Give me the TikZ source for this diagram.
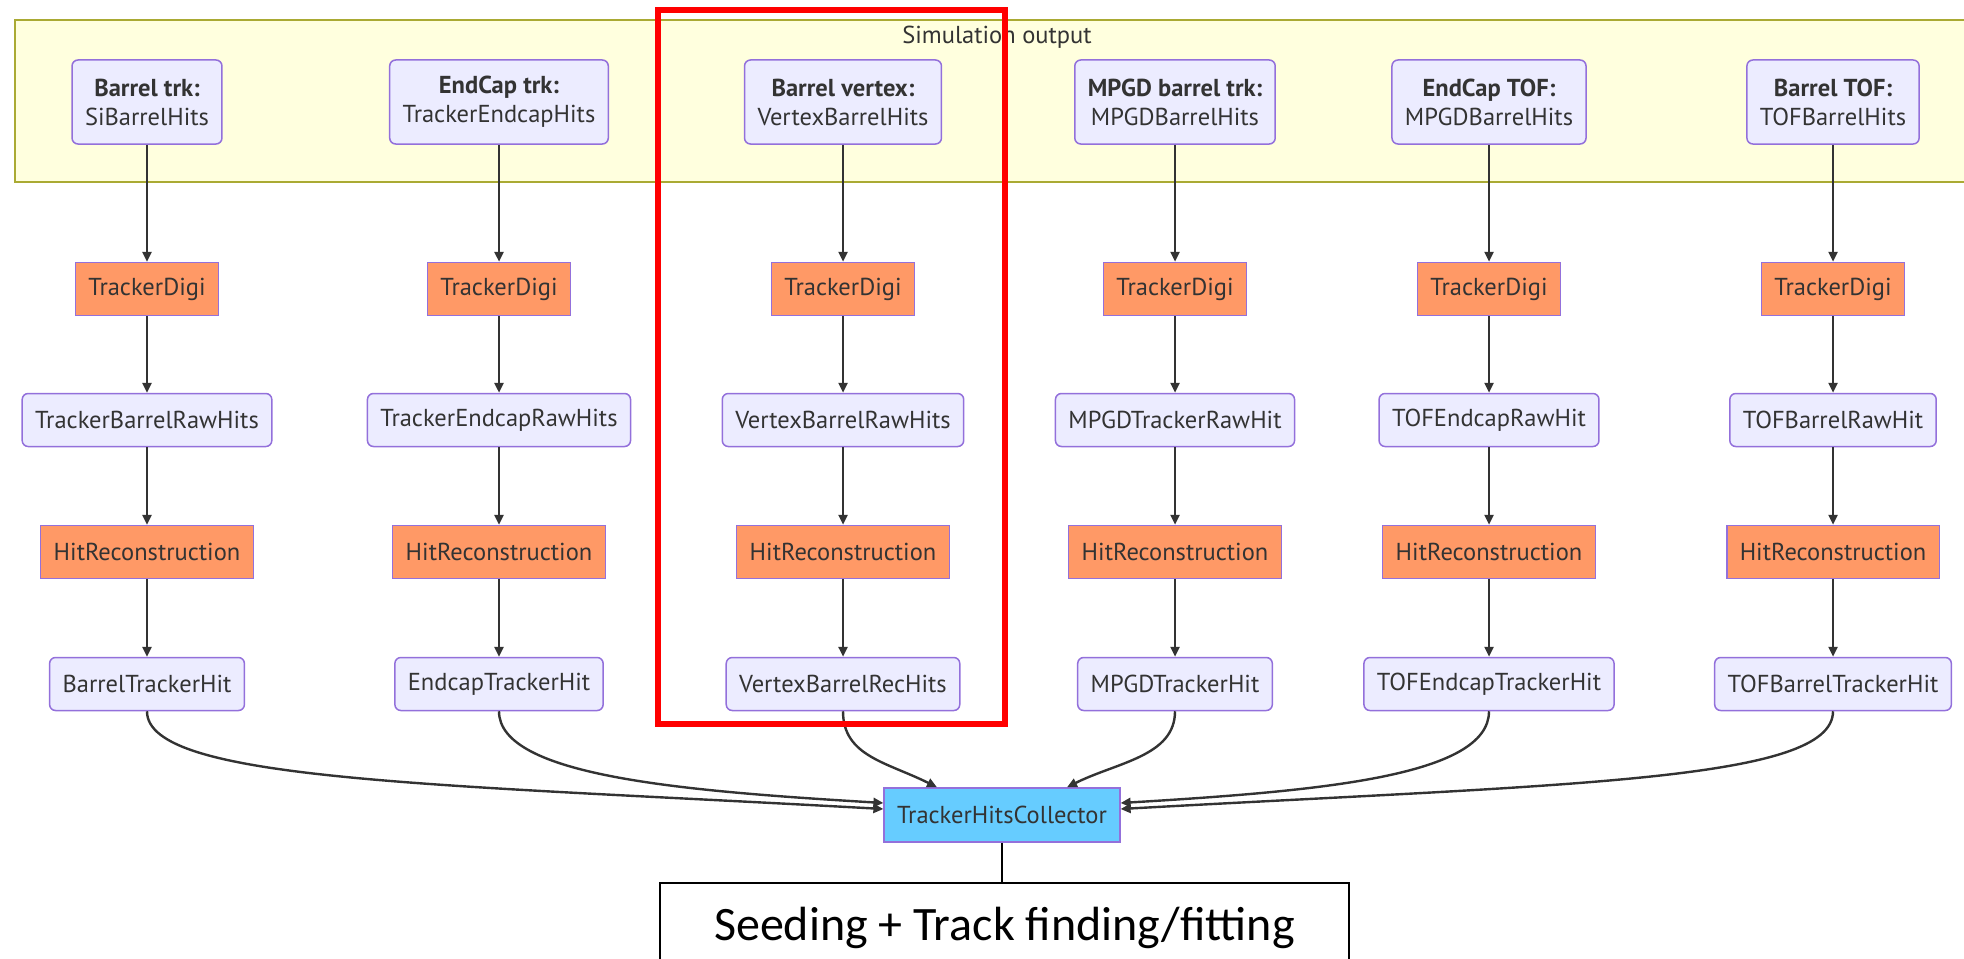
\documentclass[tikz,border=0pt]{standalone}
\usepackage{fontspec}
\setmainfont{PT Sans}
\newfontfamily\calib{Carlito}
\usetikzlibrary{arrows.meta,calc}
\definecolor{nodefill}{HTML}{ECECFF}
\definecolor{nodeborder}{HTML}{9370DB}
\definecolor{procfill}{HTML}{FF9966}
\definecolor{collfill}{HTML}{66CCFF}
\definecolor{bandfill}{HTML}{FFFFDE}
\definecolor{bandborder}{HTML}{AAAA33}
\definecolor{edgecol}{HTML}{333333}
\definecolor{txtcol}{HTML}{333333}
\tikzset{
  base/.style={font=\fontsize{24.5}{29}\selectfont, text=txtcol, inner xsep=13pt, inner ysep=0pt,
    minimum height=53pt, line width=1.5pt, draw=nodeborder},
  datanode/.style={base, fill=nodefill, rounded corners=6pt},
  procnode/.style={base, fill=procfill},
  collnode/.style={base, fill=collfill, minimum height=54pt},
  srcnode/.style={datanode, minimum height=84pt, align=center},
  arr/.style={draw=edgecol, line width=2.4pt, -{Triangle[length=10pt,width=9pt]}},
  bandnode/.style={draw=bandborder, fill=bandfill, line width=2pt, inner sep=0pt},
  hlbox/.style={draw=red, line width=6pt, inner sep=0pt},
  seednode/.style={draw=black, fill=white, line width=2pt, font=\calib\fontsize{48}{52}\selectfont, text=black},
}
\begin{document}
\begin{tikzpicture}[x=1pt,y=-1pt]
\useasboundingbox (0,0) rectangle (1964,958);
% background band
\node[bandnode, minimum width=1965pt, minimum height=162pt] (band) at (997.5,101) {};
\node[font=\fontsize{24.5}{29}\selectfont, text=txtcol] (bandlabel) at (997,37) {Simulation output};

% column x: 147, 499, 843, 1175, 1489, 1833
% rows y: 102, 289, 420, 552, 684
\node[srcnode] (s1) at (147,102) {\textbf{Barrel trk:}\\SiBarrelHits};
\node[srcnode] (s2) at (499,102) {\textbf{EndCap trk:}\\TrackerEndcapHits};
\node[srcnode] (s3) at (843,102) {\textbf{Barrel vertex:}\\VertexBarrelHits};
\node[srcnode] (s4) at (1175,102) {\textbf{MPGD barrel trk:}\\MPGDBarrelHits};
\node[srcnode] (s5) at (1489,102) {\textbf{EndCap TOF:}\\MPGDBarrelHits};
\node[srcnode] (s6) at (1833,102) {\textbf{Barrel TOF:}\\TOFBarrelHits};

\node[procnode] (d1) at (147,289) {TrackerDigi};
\node[procnode] (d2) at (499,289) {TrackerDigi};
\node[procnode] (d3) at (843,289) {TrackerDigi};
\node[procnode] (d4) at (1175,289) {TrackerDigi};
\node[procnode] (d5) at (1489,289) {TrackerDigi};
\node[procnode] (d6) at (1833,289) {TrackerDigi};

\node[datanode] (r1) at (147,420) {TrackerBarrelRawHits};
\node[datanode] (r2) at (499,420) {TrackerEndcapRawHits};
\node[datanode] (r3) at (843,420) {VertexBarrelRawHits};
\node[datanode] (r4) at (1175,420) {MPGDTrackerRawHit};
\node[datanode] (r5) at (1489,420) {TOFEndcapRawHit};
\node[datanode] (r6) at (1833,420) {TOFBarrelRawHit};

\node[procnode] (h1) at (147,552) {HitReconstruction};
\node[procnode] (h2) at (499,552) {HitReconstruction};
\node[procnode] (h3) at (843,552) {HitReconstruction};
\node[procnode] (h4) at (1175,552) {HitReconstruction};
\node[procnode] (h5) at (1489,552) {HitReconstruction};
\node[procnode] (h6) at (1833,552) {HitReconstruction};

\node[datanode] (t1) at (147,684) {BarrelTrackerHit};
\node[datanode] (t2) at (499,684) {EndcapTrackerHit};
\node[datanode] (t3) at (843,684) {VertexBarrelRecHits};
\node[datanode] (t4) at (1175,684) {MPGDTrackerHit};
\node[datanode] (t5) at (1489,684) {TOFEndcapTrackerHit};
\node[datanode] (t6) at (1833,684) {TOFBarrelTrackerHit};

\node[collnode] (c) at (1002,815) {TrackerHitsCollector};

\node[seednode, minimum width=689pt, minimum height=90pt] (seed) at (1004.5,928) {Seeding + Track finding/fitting};

\foreach \i in {1,...,6}{
  \draw[arr] (s\i) -- (d\i);
  \draw[arr] (d\i) -- (r\i);
  \draw[arr] (r\i) -- (h\i);
  \draw[arr] (h\i) -- (t\i);
}

\coordinate (cw1) at ($(c.west)+(0,-6)$);
\coordinate (cw2) at ($(c.west)+(0,-12)$);
\coordinate (ce1) at ($(c.east)+(0,-12)$);
\coordinate (ce2) at ($(c.east)+(0,-6)$);
\coordinate (cn3) at ($(c.north)+(-65,0)$);
\coordinate (cn4) at ($(c.north)+(65,0)$);

\draw[arr] (t1.south) .. controls ($(t1.south)+(0,70)$) and ($(cw1)+(-450,-25)$) .. (cw1);
\draw[arr] (t2.south) .. controls ($(t2.south)+(0,65)$) and ($(cw2)+(-200,-12)$) .. (cw2);
\draw[arr] (t3.south) .. controls ($(t3.south)+(0,45)$) and ($(cn3)+(-50,-25)$) .. (cn3);
\draw[arr] (t4.south) .. controls ($(t4.south)+(0,45)$) and ($(cn4)+(50,-25)$) .. (cn4);
\draw[arr] (t5.south) .. controls ($(t5.south)+(0,65)$) and ($(ce1)+(200,-12)$) .. (ce1);
\draw[arr] (t6.south) .. controls ($(t6.south)+(0,70)$) and ($(ce2)+(450,-25)$) .. (ce2);

\draw[draw=black, line width=2pt] (c.south) -- (c.south |- seed.north);

\node[hlbox, minimum width=347pt, minimum height=714pt] (hl) at (831.5,367) {};
\end{tikzpicture}
\end{document}
